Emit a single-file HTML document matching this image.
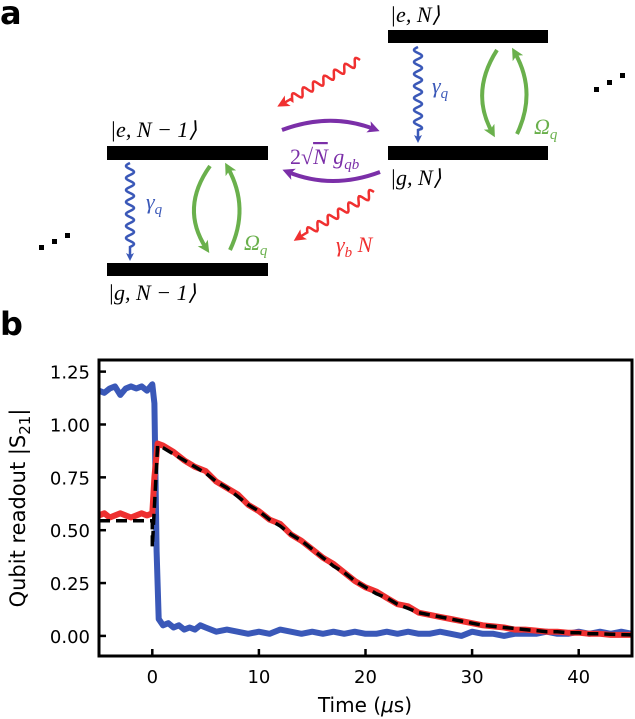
<!DOCTYPE html>
<html><head><meta charset="utf-8"><style>
html,body{margin:0;padding:0;background:#fff;}
svg{display:block;}
text{font-family:"DejaVu Sans","Liberation Sans",sans-serif;}
.m{font-family:"Liberation Serif",serif;font-style:italic;}
</style></head><body>
<svg id="fig" width="635" height="719" viewBox="0 0 635 719" xmlns="http://www.w3.org/2000/svg">
<defs>
<marker id="ab" markerWidth="8" markerHeight="8" refX="5" refY="4" orient="auto" markerUnits="userSpaceOnUse"><path d="M0,0 L8,4 L0,8 L2,4 Z" fill="#3a58b8"/></marker>
<marker id="ag" markerWidth="12" markerHeight="12" refX="6" refY="6" orient="auto" markerUnits="userSpaceOnUse"><path d="M0,0 L12,6 L0,12 L3,6 Z" fill="#6ab04c"/></marker>
<marker id="ap" markerWidth="12" markerHeight="12" refX="6" refY="6" orient="auto" markerUnits="userSpaceOnUse"><path d="M0,0 L12,6 L0,12 L3,6 Z" fill="#7b2fa8"/></marker>
<marker id="ar" markerWidth="12" markerHeight="12" refX="6" refY="6" orient="auto" markerUnits="userSpaceOnUse"><path d="M0,0 L12,6 L0,12 L3,6 Z" fill="#f03030"/></marker>
<clipPath id="pc"><rect x="99" y="360" width="533" height="296"/></clipPath>
</defs>

<!-- panel a -->
<text x="0" y="24" font-size="32" font-weight="bold">a</text>
<rect x="107" y="146" width="161" height="14" fill="#000"/>
<rect x="107" y="263" width="161" height="13" fill="#000"/>
<rect x="388" y="30" width="160" height="13" fill="#000"/>
<rect x="388" y="146" width="160" height="14" fill="#000"/>
<text class="m" x="390" y="22" font-size="22">|e, N⟩</text>
<text class="m" x="110" y="137" font-size="22">|e, N − 1⟩</text>
<text class="m" x="390" y="185" font-size="22">|g, N⟩</text>
<text class="m" x="108" y="300" font-size="22">|g, N − 1⟩</text>
<g id="waves"></g>
<path d="M210,166 Q180,208 206,248" fill="none" stroke="#6ab04c" stroke-width="4" marker-end="url(#ag)"/>
<path d="M230,250 Q250,208 228,168" fill="none" stroke="#6ab04c" stroke-width="4" marker-end="url(#ag)"/>
<path d="M497,50 Q470,92 492,132" fill="none" stroke="#6ab04c" stroke-width="4" marker-end="url(#ag)"/>
<path d="M517,134 Q537,92 515,53" fill="none" stroke="#6ab04c" stroke-width="4" marker-end="url(#ag)"/>
<text class="m" x="244" y="250" font-size="22" fill="#6ab04c">Ω<tspan font-size="15" dy="5">q</tspan></text>
<text class="m" x="534" y="134" font-size="22" fill="#6ab04c">Ω<tspan font-size="15" dy="5">q</tspan></text>
<text class="m" x="146" y="209" font-size="22" fill="#3a58b8">γ<tspan font-size="15" dy="5">q</tspan></text>
<text class="m" x="432" y="93" font-size="22" fill="#3a58b8">γ<tspan font-size="15" dy="5">q</tspan></text>
<path d="M282,130 Q330,112 374,129" fill="none" stroke="#7b2fa8" stroke-width="4" marker-end="url(#ap)"/>
<path d="M380,172 Q332,190 288,172" fill="none" stroke="#7b2fa8" stroke-width="4" marker-end="url(#ap)"/>
<text class="m" x="290" y="164" font-size="22" fill="#7b2fa8"><tspan font-style="normal">2√</tspan><tspan text-decoration="overline">N</tspan> g<tspan font-size="15" dy="5">qb</tspan></text>
<text class="m" x="336" y="252" font-size="22" fill="#f03030">γ<tspan font-size="15" dy="5">b</tspan><tspan dy="-5"> N</tspan></text>
<g fill="#000"><rect x="39" y="245" width="5" height="5"/><rect x="52" y="239" width="5" height="5"/><rect x="65" y="233" width="5" height="5"/></g>
<g fill="#000"><rect x="594" y="87" width="5" height="5"/><rect x="607" y="80" width="5" height="5"/><rect x="620" y="73" width="5" height="5"/></g>

<!-- panel b -->
<text x="0" y="335" font-size="32" font-weight="bold">b</text>
<g id="plot"></g>
<rect x="99" y="360" width="533" height="296" fill="none" stroke="#000" stroke-width="3"/>
<g id="axes"></g>
<text x="365" y="712" font-size="20" text-anchor="middle">Time (<tspan font-style="italic">μ</tspan>s)</text>
<text transform="translate(25,508) rotate(-90)" font-size="21" text-anchor="middle">Qubit readout |S<tspan font-size="15" dy="5">21</tspan><tspan dy="-5">|</tspan></text>
</svg>
<script>
const xTicks=[0,10,20,30,40];
const yTicks=[0,0.25,0.5,0.75,1.0,1.25];
const yTickLabels=["0.00","0.25","0.50","0.75","1.00","1.25"];
const blueT=[-5,-4.5,-4,-3.5,-3,-2.5,-2,-1.5,-1,-0.5,0,0.2,0.4,0.6,1,1.5,2,2.5,3,3.5,4,4.5,5,6,7,8,9,10,11,12,13,14,15,16,17,18,19,20,21,22,23,24,25,26,27,28,29,30,31,32,33,34,35,36,37,38,39,40,41,42,43,44,45];
const blueV=[1.16,1.15,1.17,1.18,1.14,1.17,1.18,1.17,1.18,1.16,1.19,1.1,0.4,0.08,0.05,0.06,0.04,0.05,0.03,0.04,0.03,0.05,0.04,0.02,0.03,0.02,0.01,0.02,0.01,0.03,0.02,0.01,0.02,0.01,0.02,0.01,0.02,0.01,0.01,0.02,0.01,0.02,0.01,0.01,0.02,0.01,0.0,0.02,0.01,0.01,0.0,0.01,0.01,0.01,0.02,0.01,0.01,0.02,0.01,0.02,0.01,0.02,0.01];
const redT=[-5,-4.5,-4,-3.5,-3,-2.5,-2,-1.5,-1,-0.5,0,0.2,0.5,1,2,3,4,5,6,7,8,9,10,11,12,13,14,15,16,17,18,19,20,21,22,23,24,25,26,27,28,29,30,31,32,33,34,35,36,37,38,39,40,41,42,43,44,45];
const redV=[0.57,0.58,0.56,0.57,0.58,0.57,0.56,0.57,0.58,0.57,0.58,0.75,0.91,0.9,0.87,0.83,0.8,0.78,0.73,0.7,0.67,0.62,0.59,0.55,0.53,0.48,0.45,0.41,0.37,0.34,0.3,0.26,0.23,0.21,0.18,0.15,0.14,0.11,0.1,0.09,0.08,0.07,0.06,0.05,0.045,0.04,0.03,0.03,0.025,0.02,0.02,0.015,0.015,0.01,0.01,0.005,0.005,0.005];
const fitT=[-5,0,0,0.5,1,2,3,4,5,6,7,8,9,10,11,12,13,14,15,16,17,18,19,20,21,22,23,24,25,26,27,28,29,30,31,32,33,34,35,36,37,38,39,40,41,42,43,44,45];
const fitV=[0.545,0.545,0.42,0.9,0.89,0.86,0.83,0.8,0.77,0.73,0.7,0.66,0.62,0.59,0.55,0.52,0.48,0.45,0.41,0.37,0.33,0.3,0.26,0.23,0.2,0.18,0.15,0.13,0.11,0.1,0.09,0.08,0.07,0.06,0.05,0.045,0.04,0.035,0.03,0.025,0.02,0.02,0.015,0.015,0.01,0.01,0.008,0.006,0.005];
const NS="http://www.w3.org/2000/svg";
const X0=99,X1=632,Y0=656,Y1=360,xmin=-5,xmax=45,ymin=-0.095,ymax=1.305;
function sx(v){return X0+(v-xmin)/(xmax-xmin)*(X1-X0);}
function sy(v){return Y0-(v-ymin)/(ymax-ymin)*(Y0-Y1);}
function mk(tag,attrs,parent){const e=document.createElementNS(NS,tag);for(const k in attrs)e.setAttribute(k,attrs[k]);parent.appendChild(e);return e;}
const plot=document.getElementById('plot');
const g=mk('g',{'clip-path':'url(#pc)'},plot);
function line(T,V,attrs){return mk('path',Object.assign({d:T.map((t,i)=>(i?'L':'M')+sx(t).toFixed(1)+','+sy(V[i]).toFixed(1)).join(''),fill:'none','stroke-linejoin':'round','stroke-linecap':'round'},attrs),g);}
let b=line(blueT,blueV,{stroke:'#3a58b8','stroke-width':6});


let r=line(redT,redV,{stroke:'#ee3030','stroke-width':6});


let f=line(fitT,fitV,{stroke:'#000','stroke-width':3.5,'stroke-dasharray':'11,6','stroke-linecap':'butt'});


const axes=document.getElementById('axes');
xTicks.forEach(v=>{const x=sx(v);
 const t=mk('line',{x1:x,x2:x,y1:Y0,y2:Y0-7,stroke:'#000','stroke-width':2.5},axes);
 
 
 const l=mk('text',{x:x,y:683,'font-size':18,'text-anchor':'middle'},axes);l.textContent=v;
 
 });
yTicks.forEach((v,i)=>{const y=sy(v);
 const t=mk('line',{x1:X0,x2:X0+7,y1:y,y2:y,stroke:'#000','stroke-width':2.5},axes);
 
 
 const l=mk('text',{x:90,y:y+7,'font-size':18,'text-anchor':'end'},axes);l.textContent=yTickLabels[i];
 
 });
const W=document.getElementById('waves');
function wave(x1,y1,x2,y2,color,marker,name,amp,per){
 const dx=x2-x1,dy=y2-y1,L=Math.hypot(dx,dy),ux=dx/L,uy=dy/L,nx=-uy,ny=ux;let d='';
 const n=Math.floor(L);for(let s=0;s<=n;s++){const a=(s<L-10)?amp*Math.sin(s/per*2*Math.PI):0;
  d+=(s?'L':'M')+(x1+ux*s+nx*a).toFixed(1)+','+(y1+uy*s+ny*a).toFixed(1);}
 const p=mk('path',{d:d,fill:'none',stroke:color,'stroke-width':2.5,'marker-end':'url(#'+marker+')'},W);
 
 }
wave(130,163,130,258,'#3a58b8','ab','decay-arrow-left',4,12);
wave(418,47,418,140,'#3a58b8','ab','decay-arrow-right',4,12);
wave(360,60,282,104,'#f03030','ar','bath-arrow-top',4,12);
wave(374,192,298,238,'#f03030','ar','bath-arrow-bottom',4,12);
</script>
</body></html>
